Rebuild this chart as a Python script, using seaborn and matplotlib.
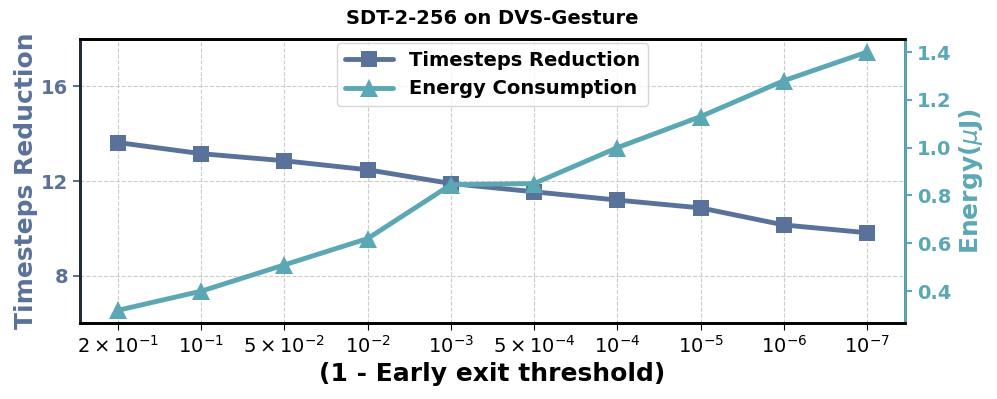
import numpy as np
import pandas as pd
import matplotlib
matplotlib.use("Agg")
import matplotlib.pyplot as plt
import seaborn as sns

# data
thresholds = [r"$2\times10^{-1}$", r"$10^{-1}$", r"$5\times10^{-2}$", r"$10^{-2}$",
              r"$10^{-3}$", r"$5\times10^{-4}$", r"$10^{-4}$", r"$10^{-5}$",
              r"$10^{-6}$", r"$10^{-7}$"]
timesteps_reduction = [13.63, 13.16, 12.86, 12.48, 11.90, 11.55, 11.20, 10.87, 10.15, 9.82]
energy_uj = [0.32, 0.40, 0.51, 0.62, 0.845, 0.85, 1.00, 1.13, 1.28, 1.40]

c_ts = "#5A729A"
c_en = "#5BA8B4"

sns.set_style("ticks")
plt.rcParams["font.family"] = ["DejaVu Sans"]
plt.rcParams.update({"text.color": "black", "axes.labelcolor": "black",
                     "xtick.color": "black", "ytick.color": "black",
                     "xtick.major.size": 5, "ytick.major.size": 5})

df = pd.DataFrame({"idx": np.arange(len(thresholds)),
                   "ts": timesteps_reduction, "en": energy_uj})

fig, ax1 = plt.subplots(figsize=(9.97, 3.99), dpi=100)
ax2 = ax1.twinx()

sns.lineplot(data=df, x="idx", y="ts", ax=ax1, color=c_ts, marker="s",
             markersize=12, linewidth=3.5, markeredgewidth=0,
             label="Timesteps Reduction", legend=False)
sns.lineplot(data=df, x="idx", y="en", ax=ax2, color=c_en, marker="^",
             markersize=13, linewidth=3.5, markeredgewidth=0,
             label="Energy Consumption", legend=False)

ax1.set_xlim(-0.46, 9.46)
ax1.set_ylim(6, 18)
ax1.set_yticks([8, 12, 16])
ax1.set_xticks(df["idx"])
ax1.set_xticklabels(thresholds, fontsize=14)
ax1.grid(True, linestyle="--", color="#cccccc", linewidth=0.8)
ax1.set_axisbelow(True)

ax1.set_xlabel("(1 - Early exit threshold)", fontsize=18, fontweight="bold")
ax1.set_ylabel("Timesteps Reduction", fontsize=18, fontweight="bold", color=c_ts, labelpad=2)
ax2.set_ylabel(r"Energy($\mu$J)", fontsize=18, fontweight="bold", color=c_en, labelpad=4)
ax1.set_title("SDT-2-256 on DVS-Gesture", fontsize=14, fontweight="bold", pad=11)

ax1.tick_params(axis="y", colors=c_ts, labelsize=14, width=1.5)
ax2.tick_params(axis="y", colors=c_en, labelsize=14, width=1.5)
for lab in ax1.get_yticklabels():
    lab.set_fontweight("bold")
ax2.set_yticks([0.4, 0.6, 0.8, 1.0, 1.2, 1.4])
for lab in ax2.get_yticklabels():
    lab.set_fontweight("bold")

for sp in ["top", "bottom", "left"]:
    ax2.spines[sp].set_linewidth(2)
    ax2.spines[sp].set_color("black")
ax2.spines["left"].set_color("#1f2a3a")
ax2.spines["right"].set_color(c_en)
ax2.spines["right"].set_linewidth(2)
for sp in ax1.spines.values():
    sp.set_linewidth(2)

h1, l1 = ax1.get_legend_handles_labels()
h2, l2 = ax2.get_legend_handles_labels()
ax2.legend(h1 + h2, l1 + l2, loc="upper center", bbox_to_anchor=(0.5, 1.0),
           prop={"weight": "bold", "size": 14}, handlelength=2.5, borderaxespad=0.2)

plt.subplots_adjust(left=0.08, right=0.908, top=0.902, bottom=0.19)
plt.savefig("out.png", dpi=100)
plt.close()
